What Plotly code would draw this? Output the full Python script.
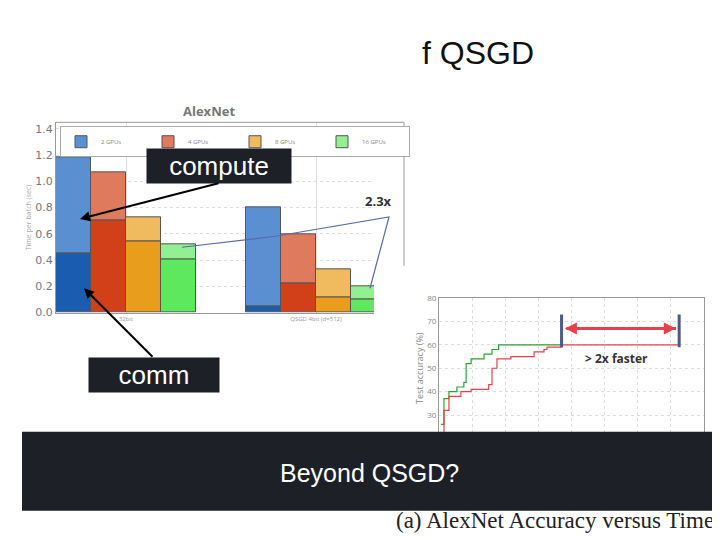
import plotly.graph_objects as go

# ---- data: AlexNet time per batch (stacked comm + compute) ----
groups = ["32bit", "QSGD 4bit (d=512)"]
gpus = ["2 GPUs", "4 GPUs", "8 GPUs", "16 GPUs"]
totals_32 = [1.18, 1.07, 0.73, 0.52]
comm_32 = [0.45, 0.70, 0.54, 0.41]
totals_q = [0.80, 0.60, 0.33, 0.20]
comm_q = [0.05, 0.22, 0.12, 0.10]
dark_cols = ["#1a5cb0", "#d2401a", "#e89e1c", "#5ee85e"]
light_cols = ["#5a8fd2", "#e07a5c", "#efbb5e", "#92f092"]

# ---- data: accuracy vs time ----
green_t = [0.6, 1.5, 3, 5.4, 7.5, 8.2, 9.7, 13.6, 16, 18, 37]
green_acc = [26, 37, 40, 42, 44, 52, 54, 56, 58, 60, 60]
red_t = [0.6, 1.5, 3, 6.6, 9.7, 15, 16, 17.5, 21.7, 28.7, 31.7, 32.6, 37]
red_acc = [22, 32, 38, 40, 41, 43, 50, 54, 55, 57, 58, 59, 60]

OFF = 4
def px(x): return (x - OFF) / 720
def py(y): return 1 - (y - OFF) / 540

fig = go.Figure()
pos_q0 = 5.43
for i, g in enumerate(gpus):
    xs = [i, pos_q0 + i]
    comm = [comm_32[i], comm_q[i]]
    comp = [totals_32[i] - comm_32[i], totals_q[i] - comm_q[i]]
    fig.add_trace(go.Bar(x=xs, y=comm, width=1, marker=dict(color=dark_cols[i], line=dict(color="#555", width=1)),
                         showlegend=False, xaxis="x", yaxis="y"))
    fig.add_trace(go.Bar(x=xs, y=comp, width=1, name=g, marker=dict(color=light_cols[i], line=dict(color="#555", width=1)),
                         xaxis="x", yaxis="y"))

fig.add_trace(go.Scatter(x=green_t, y=green_acc, mode="lines", line=dict(color="#2ca02c", width=1.2, shape="hv"),
                         showlegend=False, xaxis="x2", yaxis="y2"))
fig.add_trace(go.Scatter(x=red_t, y=red_acc, mode="lines", line=dict(color="#e8404a", width=1.2, shape="hv"),
                         showlegend=False, xaxis="x2", yaxis="y2"))

gf = dict(size=11, color="#777", family="DejaVu Sans")
fig.update_layout(
    width=720, height=540, margin=dict(l=0, r=0, t=0, b=0),
    paper_bgcolor="white", plot_bgcolor="white", barmode="relative", bargap=0,
    xaxis=dict(domain=[px(52), px(370)], range=[-0.5, 8.586], tickvals=[1.5, pos_q0 + 1.5], ticktext=groups,
               tickfont=dict(size=6, color="#999"), showgrid=True, gridcolor="#ddd", showline=True, linecolor="#999"),
    yaxis=dict(domain=[py(310), py(115)], range=[0, 1.45], dtick=0.2, tickformat=".1f", tickfont=gf,
               showgrid=True, gridcolor="#ddd", griddash="dot", showline=True, linecolor="#999", zeroline=False,
               title=dict(text="Time per batch (sec)", font=dict(size=7, color="#aaa"), standoff=2)),
    xaxis2=dict(domain=[px(435), px(700)], range=[0, 80], dtick=10, showticklabels=False, anchor="y2",
                showgrid=True, gridcolor="#ddd", griddash="dot", showline=True, linecolor="#999", mirror=True),
    yaxis2=dict(domain=[py(439), py(295)], range=[20, 80], dtick=10, anchor="x2", tickfont=dict(size=8, color="#888"),
                showgrid=True, gridcolor="#ddd", griddash="dot", showline=True, linecolor="#999", mirror=True, zeroline=False,
                title=dict(text="Test accuracy (%)", font=dict(size=9, color="#888"), standoff=2)),
    legend=dict(orientation="h", x=px(56), y=py(119), xanchor="left", yanchor="top", bordercolor="#aaa", borderwidth=1,
                font=dict(size=6, color="#888"), bgcolor="white", entrywidth=42, itemwidth=30),
)

shapes = [
    dict(type="line", xref="paper", yref="paper", x0=px(52), x1=px(400), y0=py(115), y1=py(115), line=dict(color="#999", width=1)),
    dict(type="line", xref="paper", yref="paper", x0=px(400), x1=px(400), y0=py(115), y1=py(262), line=dict(color="#999", width=1)),
    dict(type="path", xref="paper", yref="paper",
         path=f"M {px(178)} {py(243)} L {px(270)} {py(232)} L {px(385)} {py(212)} L {px(366)} {py(285)}",
         line=dict(color="#5a6aa8", width=1.2)),
    dict(type="line", xref="x2", yref="y2", x0=37, x1=72.5, y0=60, y1=60, line=dict(color="#e8404a", width=1.2)),
    dict(type="line", xref="x2", yref="y2", x0=37, x1=37, y0=59, y1=73, line=dict(color="#4a5a90", width=3)),
    dict(type="line", xref="x2", yref="y2", x0=72.5, x1=72.5, y0=59, y1=73, line=dict(color="#4a5a90", width=3)),
    dict(type="rect", xref="paper", yref="paper", x0=px(18), x1=px(713), y0=py(513), y1=py(432),
         fillcolor="#1e2028", line=dict(width=0), layer="above"),
]
fig.update_layout(shapes=shapes)

ann = [
    dict(x=px(205), y=py(103), text="<b>AlexNet</b>", font=dict(size=13, color="#777")),
    dict(x=px(416), y=py(44), text="f QSGD", xanchor="left", font=dict(size=32, color="#111", family="Liberation Sans")),
    dict(x=px(375), y=py(196), text="<b>2.3x</b>", font=dict(size=13, color="#333")),
    dict(x=px(612), y=py(357), text="<b>> 2x faster</b>", font=dict(size=12, color="#333")),
    dict(x=px(215), y=py(160), text="compute", bgcolor="#1e2028", font=dict(size=26, color="white", family="Liberation Sans"),
         borderpad=2, width=140),
    dict(x=px(150), y=py(374), text="comm", bgcolor="#1e2028", font=dict(size=26, color="white", family="Liberation Sans"),
         borderpad=2, width=126),
    dict(x=px(365), y=py(474), text="Beyond QSGD?", font=dict(size=25, color="white", family="Liberation Sans")),
    dict(x=px(390), y=py(523), text="(a) AlexNet Accuracy versus Time", xanchor="left",
         font=dict(size=23, color="#222", family="Liberation Serif")),
]
for a in ann:
    a.setdefault("xanchor", "center")
    a.update(xref="paper", yref="paper", showarrow=False, yanchor="middle")
ann += [
    dict(xref="paper", yref="paper", x=px(76), y=py(214), ax=140, ay=-36,
         showarrow=True, arrowhead=2, arrowsize=1, arrowwidth=2, arrowcolor="black", text=""),
    dict(xref="paper", yref="paper", x=px(80), y=py(285), ax=70, ay=70,
         showarrow=True, arrowhead=2, arrowsize=1, arrowwidth=2, arrowcolor="black", text=""),
    dict(xref="x2", yref="y2", x=38, y=67, ax=72, ay=67, axref="x2", ayref="y2",
         showarrow=True, arrowhead=2, arrowsize=0.8, arrowwidth=3, arrowcolor="#e8404a", text=""),
    dict(xref="x2", yref="y2", x=71.5, y=67, ax=38, ay=67, axref="x2", ayref="y2",
         showarrow=True, arrowhead=2, arrowsize=0.8, arrowwidth=3, arrowcolor="#e8404a", text=""),
]
fig.update_layout(annotations=ann)
fig.write_html("out.html")
